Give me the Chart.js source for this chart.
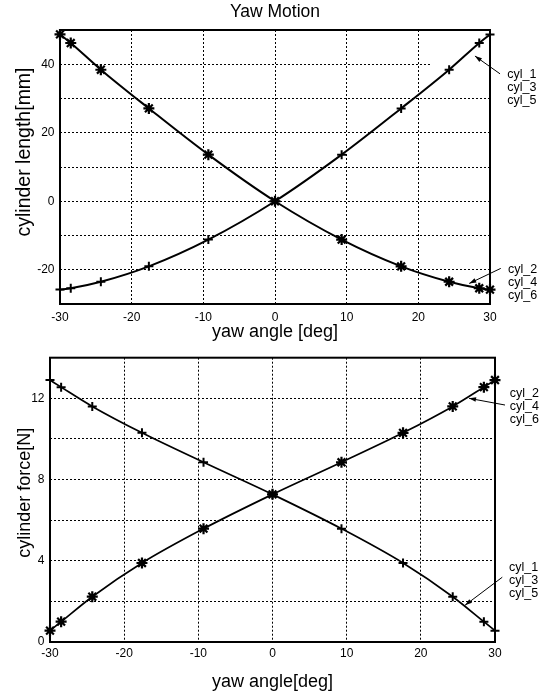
<!DOCTYPE html>
<html><head><meta charset="utf-8">
<script src="https://cdn.jsdelivr.net/npm/chart.js@4/dist/chart.umd.min.js"></script>
<style>
html,body{margin:0;padding:0;background:#fff;}
#wrap{position:relative;width:543px;height:694px;background:#fff;}
.c{position:absolute;left:0;}
canvas{display:block;}
</style></head><body>
<div id="wrap">
<div class="c" style="top:0;"><canvas id="c1" width="543" height="345"></canvas></div>
<div class="c" style="top:345px;"><canvas id="c2" width="543" height="349"></canvas></div>
</div>
<script>
// ---------- data ----------
const yawAngle      = [-30, -28.5, -24.3, -17.6, -9.3, 0, 9.3, 17.6, 24.3, 28.5, 30];
const lengthCyl135  = [-25.8, -25.4, -23.5, -19.0, -11.2, 0, 13.6, 27.1, 38.4, 46.2, 48.7];
const lengthCyl246  = [48.7, 46.2, 38.4, 27.1, 13.6, 0, -11.2, -19.0, -23.5, -25.4, -25.8];
const forceCyl135   = [12.9, 12.55, 11.6, 10.3, 8.85, 7.27, 5.58, 3.89, 2.23, 1.0, 0.56];
const forceCyl246   = [0.56, 1.0, 2.23, 3.89, 5.58, 7.27, 8.85, 10.3, 11.6, 12.55, 12.9];
const xTickLabels      = [-30, -20, -10, 0, 10, 20, 30];
const lengthTickLabels = [-20, 0, 20, 40];
const forceTickLabels  = [0, 4, 8, 12];
const groupOdd  = ['cyl_1', 'cyl_3', 'cyl_5'];
const groupEven = ['cyl_2', 'cyl_4', 'cyl_6'];

const FONT = "'Liberation Sans', Arial, Helvetica, sans-serif";

function pts(xs, ys) { return xs.map((x, i) => ({x: x, y: ys[i]})); }

function makeDeco(cfg) {
  return {
    id: 'deco',
    beforeDatasetsDraw(chart) {
      const {ctx, chartArea: a} = chart;
      ctx.save();
      if (cfg.blank) {
        ctx.fillStyle = '#fff';
        ctx.fillRect(a.right - cfg.blank.w, a.top + 1, cfg.blank.w - 1, cfg.blank.h);
      }
      ctx.strokeStyle = '#000';
      ctx.lineWidth = 2;
      ctx.strokeRect(a.left, a.top, a.right - a.left, a.bottom - a.top);
      ctx.restore();
    },
    afterDatasetsDraw(chart) {
      const {ctx, scales, chartArea: a} = chart;
      const sx = scales.x, sy = scales.y;
      ctx.save();
      ctx.strokeStyle = '#000';
      ctx.fillStyle = '#000';
      ctx.lineWidth = 1;
      cfg.notes.forEach(n => {
        const hx = sx.getPixelForValue(n.head[0]), hy = sy.getPixelForValue(n.head[1]);
        const tx = sx.getPixelForValue(n.tail[0]), ty = sy.getPixelForValue(n.tail[1]);
        ctx.beginPath(); ctx.moveTo(tx, ty); ctx.lineTo(hx, hy); ctx.stroke();
        const ang = Math.atan2(hy - ty, hx - tx), L = 7, W = 2.3;
        ctx.beginPath();
        ctx.moveTo(hx, hy);
        ctx.lineTo(hx - L * Math.cos(ang) + W * Math.sin(ang), hy - L * Math.sin(ang) - W * Math.cos(ang));
        ctx.lineTo(hx - L * Math.cos(ang) - W * Math.sin(ang), hy - L * Math.sin(ang) + W * Math.cos(ang));
        ctx.closePath(); ctx.fill();
        const px = sx.getPixelForValue(n.text[0]), py = sy.getPixelForValue(n.text[1]);
        ctx.font = '12.5px ' + FONT;
        ctx.textAlign = 'left';
        ctx.textBaseline = 'middle';
        n.lines.forEach((s, i) => ctx.fillText(s, px, py + i * 13));
      });
      // y-axis title (rotated), shifted along the axis as in the original
      ctx.font = cfg.yTitle.size + 'px ' + FONT;
      ctx.textAlign = 'center';
      ctx.textBaseline = 'middle';
      ctx.translate(cfg.yTitle.x, (a.top + a.bottom) / 2 - cfg.yTitle.shift);
      ctx.rotate(-Math.PI / 2);
      ctx.fillText(cfg.yTitle.text, 0, 0);
      ctx.restore();
    }
  };
}

function lineSet(data, style, r, bw, pbw) {
  return {
    data: data, borderColor: '#000', backgroundColor: '#000',
    borderWidth: bw, pointStyle: style, pointRadius: r, pointBorderWidth: pbw,
    pointBorderColor: '#000', pointBackgroundColor: '#000',
    cubicInterpolationMode: 'monotone', clip: false, fill: false
  };
}

function axisX(labelText, tickPad, titleSize, titleBottom, height) {
  return {
    type: 'linear', min: -30, max: 30,
    afterFit(s) { s.height = height; },
    ticks: { stepSize: 10, padding: tickPad, autoSkip: false, maxRotation: 0, color: '#000',
      font: {family: FONT, size: 12},
      callback: v => xTickLabels.includes(v) ? String(v) : '' },
    grid: { color: '#000', lineWidth: 1, drawTicks: false },
    border: { display: false, dash: [2, 2] },
    title: { display: true, text: labelText, color: '#000',
      font: {family: FONT, size: titleSize}, padding: {top: 0, bottom: titleBottom} }
  };
}

function axisY(min, max, step, labels, width) {
  return {
    type: 'linear', min: min, max: max,
    afterFit(s) { s.width = width; },
    ticks: { stepSize: step, padding: 5.5, autoSkip: false, color: '#000',
      font: {family: FONT, size: 12},
      callback: v => labels.includes(v) ? String(v) : '' },
    grid: { color: '#000', lineWidth: 1, drawTicks: false },
    border: { display: false, dash: [2, 2] },
    title: { display: false }
  };
}

// ---------- top chart ----------
new Chart(document.getElementById('c1'), {
  type: 'line',
  data: { datasets: [
    lineSet(pts(yawAngle, lengthCyl135), 'cross', 4.5, 2, 2),
    lineSet(pts(yawAngle, lengthCyl246), 'star', 5.5, 2, 2.2)
  ]},
  options: {
    responsive: false, animation: false, events: [],
    layout: { padding: {left: 0, right: 53, top: 0, bottom: 0} },
    plugins: {
      legend: {display: false}, tooltip: {enabled: false},
      title: { display: true, text: 'Yaw Motion', fullSize: false, color: '#000',
        font: {family: FONT, size: 17.5, weight: 'normal'}, padding: {top: 2, bottom: 7} }
    },
    scales: {
      x: axisX('yaw angle [deg]', 6, 18, 2.5, 41),
      y: axisY(-30, 50, 10, lengthTickLabels, 60)
    }
  },
  plugins: [makeDeco({
    blank: {w: 58, h: 50},
    yTitle: {text: 'cylinder length[mm]', size: 19.5, x: 25, shift: 15},
    notes: [
      {lines: groupOdd,  head: [27.9, 42.4],  tail: [31.4, 37.2],  text: [32.4, 36.9]},
      {lines: groupEven, head: [27.1, -24.0], tail: [31.5, -19.6], text: [32.5, -19.8]}
    ]
  })]
});

// ---------- bottom chart ----------
new Chart(document.getElementById('c2'), {
  type: 'line',
  data: { datasets: [
    lineSet(pts(yawAngle, forceCyl135), 'cross', 4.5, 1.7, 2),
    lineSet(pts(yawAngle, forceCyl246), 'star', 5.5, 1.7, 2.2)
  ]},
  options: {
    responsive: false, animation: false, events: [],
    layout: { padding: {left: 0, right: 48, top: 3, bottom: 0} },
    plugins: { legend: {display: false}, tooltip: {enabled: false} },
    scales: {
      x: axisX('yaw angle[deg]', 4, 18, 1.5, 52),
      y: axisY(0, 14, 2, forceTickLabels, 50)
    }
  },
  plugins: [makeDeco({
    blank: {w: 67, h: 60},
    yTitle: {text: 'cylinder force[N]', size: 18, x: 25, shift: 7},
    notes: [
      {lines: groupEven, head: [26.5, 12.0], tail: [31.35, 11.67], text: [32.0, 12.24]},
      {lines: groupOdd,  head: [25.96, 1.81], tail: [30.98, 3.19], text: [31.9, 3.67]}
    ]
  })]
});
</script>
</body></html>
